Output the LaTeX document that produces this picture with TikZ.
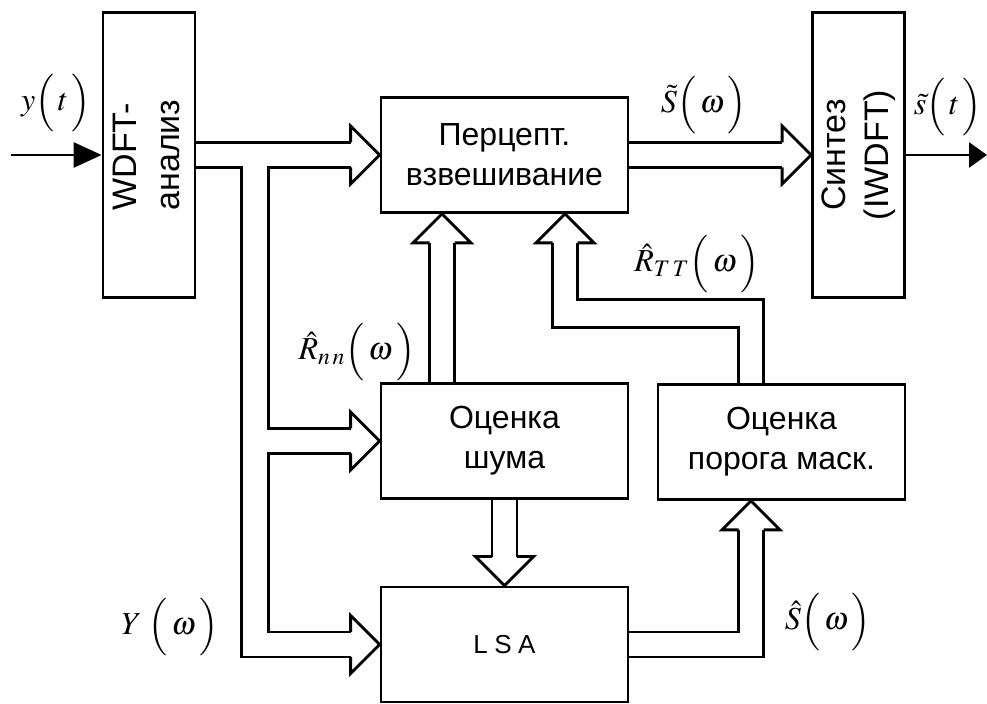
\documentclass[tikz,border=0pt]{standalone}
\usepackage{amsmath}
\usepackage{mathptmx}
\usepackage{fontspec}
\setmainfont{Liberation Sans}
\usepackage{graphicx}
\usetikzlibrary{arrows.meta,calc}

\begin{document}
\begin{tikzpicture}[x=0.5pt,y=-0.5pt,line width=1.4pt,
    blk/.style={draw,minimum width=123.5pt,minimum height=57.5pt,inner sep=0pt,align=center,font=\fontsize{16}{20}\selectfont},
    vblk/.style={draw,minimum width=46pt,minimum height=142.5pt,inner sep=0pt,font=\fontsize{17}{21.5}\selectfont},
    lbl/.style={inner sep=0pt,font=\fontsize{16}{18}\selectfont},
    hhead/.pic={\draw (-29,-12.5) -- (-29,-29) -- (0,0) -- (-29,29) -- (-29,12.5);}]
    \useasboundingbox (0,0) rectangle (987,704);
    % blocks
    \node[vblk] (wdft) at (149,155) {\rotatebox{90}{\begin{tabular}{@{}l@{}}WDFT-\\анализ\end{tabular}}};
    \node[blk] (perc) at (504.5,155) {Перцепт.\\взвешивание};
    \node[vblk] (synth) at (858.5,155) {\rotatebox{90}{\begin{tabular}{@{}c@{}}Синтез\\(IWDFT)\end{tabular}}};
    \node[blk] (noise) at (504.5,441) {Оценка\\шума};
    \node[blk] (mask) at (781.5,442) {Оценка\\порога маск.};
    \node[blk,font=\fontsize{13}{15}\selectfont\addfontfeatures{LetterSpace=25}] (lsa) at (504.5,644.5) {LSA};
    % signal labels
    \node[lbl] (yt) at (56,103) {$y\Bigl(\,t\,\Bigr)$};
    \node[lbl] (st) at (948,107) {$\tilde{s}\Bigl(\,t\,\Bigr)$};
    \node[lbl] (Sw) at (704,105) {$\tilde{S}\Bigl(\,\omega\,\Bigr)$};
    \node[lbl] (RTT) at (697,264) {$\hat{R}_{T\,T}\Bigl(\,\omega\,\Bigr)$};
    \node[lbl] (Rnn) at (357,352) {$\hat{R}_{n\,n}\Bigl(\,\omega\,\Bigr)$};
    \node[lbl] (Yw) at (170,627) {$Y\;\Bigl(\,\omega\,\Bigr)$};
    \node[lbl] (Shw) at (828,622) {$\hat{S}\Bigl(\,\omega\,\Bigr)$};
    \coordinate (in) at (11,155);
    \coordinate (out) at (987,155);
    \coordinate (t1) at ($(perc.south)+(-62.5,0)$);
    \coordinate (t2) at ($(perc.south)+(60.5,0)$);
    \coordinate (t3) at ($(mask.south)+(-30.5,0)$);
    % single lines
    \draw[-{Triangle[length=14pt,width=12.5pt]}] (in) -- (wdft.west);
    \draw[-{Triangle[length=9pt,width=12.5pt]}] (synth.east) -- (out);
    % spectrum bus
    \draw ($(wdft.east |- perc.west)+(0,-12.5)$) -- ($(perc.west)+(-29,-12.5)$);
    \draw ($(wdft.east |- perc.west)+(0,12.5)$) -| ($(lsa.west)+(-138,12.5)$) -- ($(lsa.west)+(-29,12.5)$);
    \draw ($(perc.west)+(-29,12.5)$) -| ($(noise.west)+(-111,-12.5)$) -- ($(noise.west)+(-29,-12.5)$);
    \draw ($(noise.west)+(-29,12.5)$) -| ($(lsa.west)+(-111,-12.5)$) -- ($(lsa.west)+(-29,-12.5)$);
    \draw ($(perc.east)+(0,-12.5)$) -- ($(synth.west)+(-29,-12.5)$);
    \draw ($(perc.east)+(0,12.5)$) -- ($(synth.west)+(-29,12.5)$);
    % estimates
    \draw ($(noise.north -| t1)+(-12.5,0)$) -- ($(t1)+(-12.5,29)$);
    \draw ($(noise.north -| t1)+(12.5,0)$) -- ($(t1)+(12.5,29)$);
    \draw ($(mask.north -| t3)+(12.5,0)$) |- ($(t2)+(12.5,86)$) -- ($(t2)+(12.5,29)$);
    \draw ($(mask.north -| t3)+(-12.5,0)$) |- ($(t2)+(-12.5,114)$) -- ($(t2)+(-12.5,29)$);
    \draw ($(lsa.east)+(0,-12.5)$) -| ($(t3)+(-12.5,29)$);
    \draw ($(lsa.east)+(0,12.5)$) -| ($(t3)+(12.5,29)$);
    \draw ($(noise.south)+(-12.5,0)$) -- ($(lsa.north)+(-12.5,-29)$);
    \draw ($(noise.south)+(12.5,0)$) -- ($(lsa.north)+(12.5,-29)$);
    % hollow heads
    \pic at (perc.west) {hhead};
    \pic at (noise.west) {hhead};
    \pic at (lsa.west) {hhead};
    \pic at (synth.west) {hhead};
    \pic[rotate=90] at (t1) {hhead};
    \pic[rotate=90] at (t2) {hhead};
    \pic[rotate=90] at (t3) {hhead};
    \pic[rotate=-90] at (lsa.north) {hhead};
\end{tikzpicture}
\end{document}
